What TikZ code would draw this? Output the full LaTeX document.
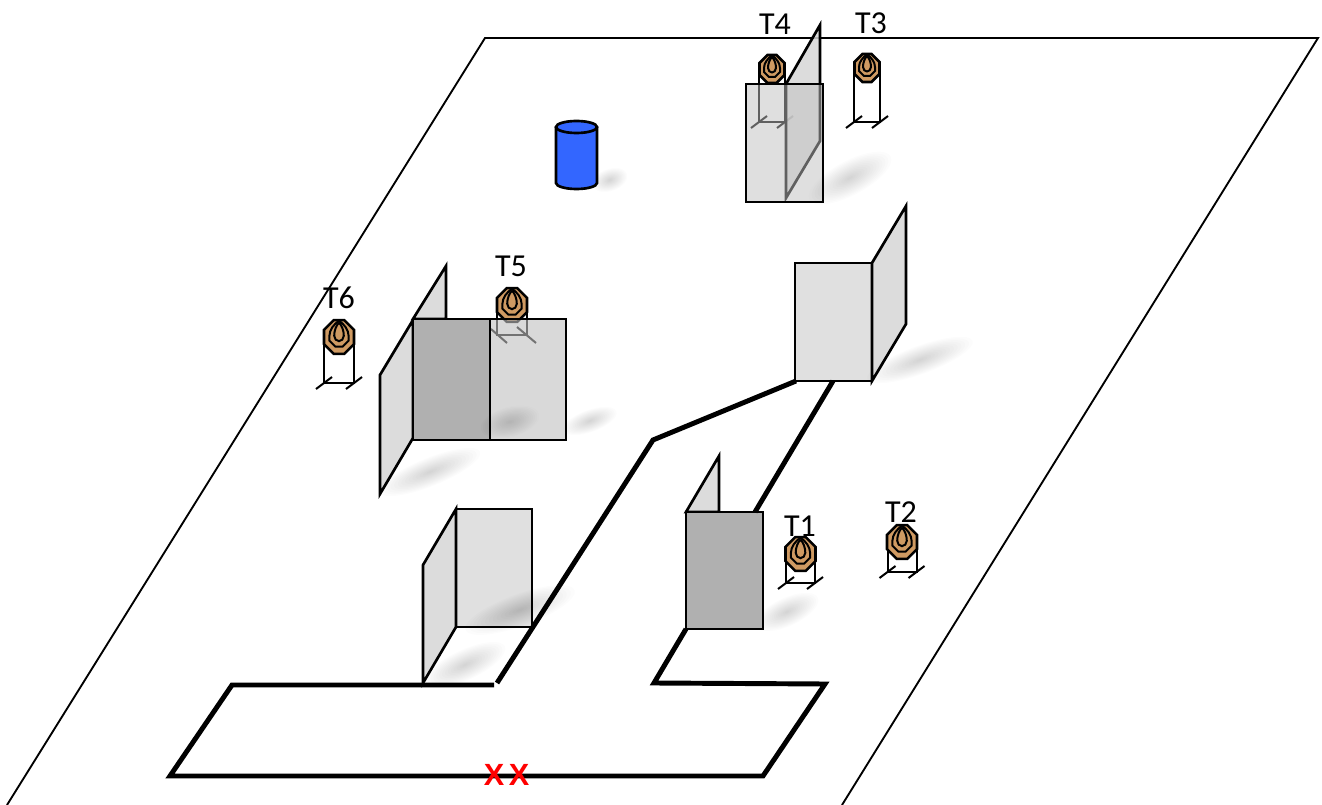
\documentclass[tikz,border=0pt]{standalone}
\usepackage{fontspec}
\setmainfont{Carlito}
\newfontfamily\markfont{Liberation Sans}
\usepackage{xcolor}
\definecolor{wallfill}{HTML}{E0E0E0}
\definecolor{planefill}{HTML}{D6D6D6}
\definecolor{clearfill}{HTML}{C0C0C0}
\definecolor{darkwall}{HTML}{B0B0B0}
\definecolor{targetfill}{HTML}{CF9A62}
\definecolor{drumfill}{HTML}{3366FF}
\tikzset{
  frameline/.style = {black, line width=1.4pt},
  routeline/.style = {black, line width=3.7pt, line join=miter},
  wall/.style = {draw=black, line width=2pt, line join=miter, fill=wallfill},
  clearwall/.style = {wall, fill=clearfill, fill opacity=0.5},
  plane/.style = {draw=black, line width=2pt, line join=miter, fill=planefill, fill opacity=0.85},
  darkbox/.style = {wall, fill=darkwall},
  standline/.style = {line width=1.5pt},
  tag/.style = {font=\fontsize{24}{26}\selectfont, inner sep=0pt},
  startmark/.style = {font=\markfont\bfseries\fontsize{23}{25}\selectfont, text=red, inner sep=0pt},
  softshadow/.style = {black, opacity=0.012},
  target/.pic = {
    \draw[line width=1.9pt, fill=targetfill] (-4.5,-14) -- (4.5,-14) -- (12.5,-6) -- (12.5,6) -- (4.5,14) -- (-4.5,14) -- (-12.5,6) -- (-12.5,-6) -- cycle;
    \draw[line width=1.5pt] (0,-13.5) .. controls (4,-11) and (8,-6) .. (8,-1) -- (8,3) -- (3,8) -- (-3,8) -- (-8,3) -- (-8,-1) .. controls (-8,-6) and (-4,-11) .. (0,-13.5);
    \draw[line width=1.5pt] (0,-12) .. controls (2.5,-9.5) and (4,-5) .. (4,-1) .. controls (4,1.5) and (2,3.5) .. (0,3.5) .. controls (-2,3.5) and (-4,1.5) .. (-4,-1) .. controls (-4,-5) and (-2.5,-9.5) .. (0,-12);
  },
  pics/standing/.style n args = {3}{code = {
    \draw[standline] (-#1,0) -- (-#1,#2) -- (#1,#2) -- (#1,0);
    \draw[standline] (-#1-8,#2+6) -- (-#1+8,#2-6) (#1-8,#2+6) -- (#1+8,#2-6);
    \pic[scale=#3] {target};
  }},
  pics/leaning/.style n args = {3}{code = {
    \draw[standline] (-#1,0) -- (-#1,#2) -- (#1,#2) -- (#1,0);
    \draw[standline] (-#1-6,#2-6) -- (-#1+10,#2+8) (#1-10,#2-8) -- (#1+9,#2+8);
    \pic[scale=#3] {target};
  }},
}
\newcommand{\castshadow}[4]{
  \foreach \k in {1,...,14} {
    \fill[softshadow, rotate around={#2:#1}] #1 ellipse[x radius={#3*\k/14}, y radius={#4*\k/14}];
  }
}

\begin{document}
\begin{tikzpicture}[x=0.75pt,y=-0.75pt]
    \useasboundingbox (0,0) rectangle (1322,805);
    \clip (0,0) rectangle (1322,805);

    \coordinate (fieldback) at (485,38);
    \coordinate (fieldright) at (1318,38);
    \coordinate (fieldfront) at (842,805);
    \coordinate (fieldleft) at (7,805);
    \draw[frameline] (fieldleft) -- (fieldback) -- (fieldright) -- (fieldfront);

    \pic at (772,69) {standing={13}{53}{1}};
    \pic at (867,68) {standing={13}{54}{1}};
    \pic at (512,305) {leaning={15}{30}{1.2}};
    \pic at (339,337) {standing={15}{46}{1.2}};
    \pic at (800.5,554) {standing={14.5}{29}{1.2}};
    \pic at (902,542) {standing={14.5}{30}{1.2}};

    \node[tag] (t4) at (775,24) {T4};
    \node[tag] (t3) at (871,23) {T3};
    \node[tag] (t5) at (511,266) {T5};
    \node[tag] (t6) at (339,298) {T6};
    \node[tag] (t1) at (800,526) {T1};
    \node[tag] (t2) at (901,512) {T2};

    \castshadow{(787,612)}{25}{34}{14}

    \draw[plane] (786,84) -- (820,25) -- (820,141) -- (786,198) -- cycle;
    \draw[clearwall] (746,84) rectangle (823,202);

    \draw[wall] (795,263) rectangle (872,381);
    \draw[plane] (872,263) -- (906,206) -- (906,324) -- (872,381) -- cycle;

    \draw[plane] (413,319) -- (446,266) -- (446,319) -- cycle;
    \draw[plane] (413,320) -- (380,375) -- (380,494) -- (413,438) -- cycle;
    \draw[darkbox] (413,319) rectangle (490,440);
    \draw[clearwall, fill opacity=0.6] (490,319) rectangle (566,440);

    \draw[wall] (456,509) rectangle (532,627);
    \draw[plane] (456,509) -- (423,565) -- (423,683) -- (456,627) -- cycle;

    \draw[plane] (686,512) -- (719,456) -- (719,512) -- cycle;
    \draw[darkbox] (686,512) rectangle (763,629);

    \castshadow{(850,178)}{28}{46}{17}
    \castshadow{(920,360)}{20}{56}{14}
    \castshadow{(430,472)}{22}{54}{14}
    \castshadow{(510,422)}{15}{30}{15}
    \castshadow{(590,421)}{20}{28}{11}
    \castshadow{(465,665)}{25}{44}{15}
    \castshadow{(520,610)}{20}{58}{16}
    \castshadow{(610,180)}{20}{18}{11}

    \draw[routeline] (494,685) -- (232,685) -- (170,776) -- (763,776) -- (825,684) -- (654,683) -- (686,629);
    \draw[routeline] (497,683) -- (653,440) -- (796,381);
    \draw[routeline] (833,381) -- (755,512);

    \draw[line width=2pt, fill=drumfill] (556,127) -- (556,183) arc[start angle=180, end angle=0, x radius=20.5, y radius=6] -- (597,127);
    \draw[line width=2pt, fill=drumfill] (576.5,127) ellipse[x radius=20.5, y radius=6];

    \node[startmark] (startone) at (494,775) {X};
    \node[startmark] (starttwo) at (519,775) {X};
\end{tikzpicture}
\end{document}
